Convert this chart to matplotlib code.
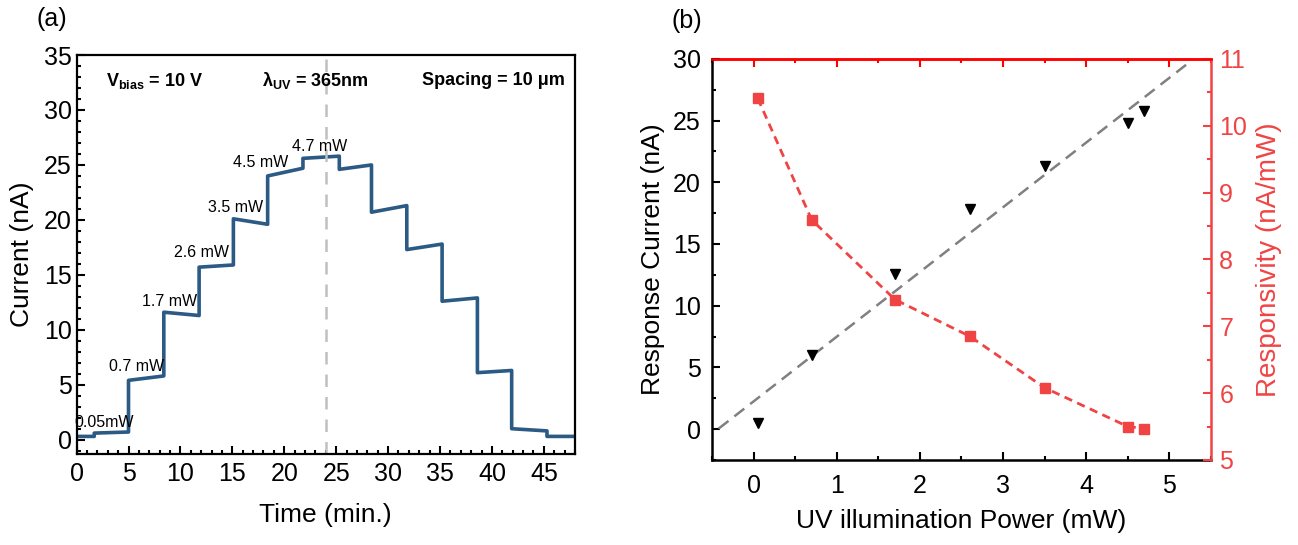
import matplotlib
matplotlib.use("Agg")
import matplotlib.pyplot as plt
import numpy as np
from matplotlib.ticker import MultipleLocator

plt.rcParams.update({
    "font.family": ["Liberation Sans", "DejaVu Sans"],
    "mathtext.fontset": "custom",
    "mathtext.rm": "Liberation Sans",
    "mathtext.bf": "Liberation Sans:bold",
    "mathtext.it": "Liberation Sans:italic",
})

# (a) photocurrent trace: plateau edges (min) and plateau levels (nA)
step_times = [0, 1.7, 5.0, 8.4, 11.8, 15.1, 18.4, 21.8, 25.3, 28.4, 31.8, 35.2, 38.6, 41.9, 45.3, 48]
level_start = [0.3, 0.6, 5.4, 11.6, 15.7, 20.1, 24.0, 25.6, 24.6, 20.7, 17.3, 12.6, 6.1, 1.0, 0.3]
level_end = [0.3, 0.7, 5.8, 11.3, 15.9, 19.6, 24.7, 25.8, 25.0, 21.3, 17.8, 12.9, 6.3, 0.8, 0.3]

power_labels = ["0.05mW", "0.7 mW", "1.7 mW", "2.6 mW", "3.5 mW", "4.5 mW", "4.7 mW"]
label_t = [2.7, 5.8, 9.0, 12.0, 15.3, 17.7, 23.4]
label_i = [1.6, 6.7, 12.6, 17.0, 21.1, 25.2, 26.7]
t_center = 24

# (b) response current and responsivity vs UV power
power = [0.05, 0.7, 1.7, 2.6, 3.5, 4.5, 4.7]
resp_current = [0.5, 6.0, 12.6, 17.8, 21.3, 24.8, 25.8]
responsivity = [10.41, 8.59, 7.40, 6.85, 6.08, 5.50, 5.47]

blue = "#2b5a84"
red = "#f04444"
TICK = 18
LAB = 19

fig = plt.figure(figsize=(12.98, 5.45), dpi=100)
ax1 = fig.add_axes([0.059, 0.167, 0.384, 0.732])
ax2 = fig.add_axes([0.5485, 0.156, 0.3845, 0.736])

# ---- panel (a)
t_pts, i_pts = [], []
for k in range(len(level_start)):
    t_pts += [step_times[k], step_times[k + 1]]
    i_pts += [level_start[k], level_end[k]]
ax1.plot(t_pts, i_pts, color=blue, lw=2.6, solid_joinstyle="round")
ax1.axvline(t_center, color="#c0c0c0", lw=1.8, ls=(0, (5, 4)))

for lab, x, y in zip(power_labels, label_t, label_i):
    ax1.text(x, y, lab, fontsize=11.5, ha="center", va="center")

ax1.text(0.06, 0.935, r"V$_{\mathbf{bias}}$ = 10 V", transform=ax1.transAxes,
         fontsize=13, fontweight="bold", va="center")
ax1.text(0.48, 0.935, r"$\mathbf{\lambda_{UV}}$ = 365nm", transform=ax1.transAxes,
         fontsize=13, fontweight="bold", va="center", ha="center")
ax1.text(0.98, 0.935, "Spacing = 10 \u03bcm", transform=ax1.transAxes,
         fontsize=13, fontweight="bold", va="center", ha="right")

ax1.set_xlim(0, 48)
ax1.set_ylim(-1.3, 35)
ax1.xaxis.set_major_locator(MultipleLocator(5))
ax1.xaxis.set_minor_locator(MultipleLocator(1))
ax1.yaxis.set_major_locator(MultipleLocator(5))
ax1.yaxis.set_minor_locator(MultipleLocator(1))
ax1.tick_params(which="both", direction="in", labelsize=TICK, width=1.5)
ax1.tick_params(which="major", length=6)
ax1.tick_params(which="minor", length=3)
ax1.tick_params(axis="x", pad=6)
for sp in ax1.spines.values():
    sp.set_linewidth(1.6)
ax1.set_xlabel("Time (min.)", fontsize=LAB, labelpad=12)
ax1.set_ylabel("Current (nA)", fontsize=LAB, labelpad=7)
fig.text(0.028, 0.965, "(a)", fontsize=18, va="center")

# ---- panel (b)
slope, icpt = np.polyfit(power, resp_current, 1)
xf = np.array([-0.42, 5.2])
ax2.plot(xf, slope * xf + icpt, color="#808080", lw=1.8, ls=(0, (5, 3)))
ax2.plot(power, resp_current, "v", color="black", ms=7.5)

ax2.set_xlim(-0.5, 5.5)
ax2.set_ylim(-2.5, 30)
ax2.xaxis.set_major_locator(MultipleLocator(1))
ax2.xaxis.set_minor_locator(MultipleLocator(0.5))
ax2.yaxis.set_major_locator(MultipleLocator(5))
ax2.yaxis.set_minor_locator(MultipleLocator(2.5))
ax2.tick_params(which="both", direction="in", labelsize=TICK, width=1.5)
ax2.tick_params(which="major", length=6)
ax2.tick_params(which="minor", length=3)
ax2.tick_params(axis="x", pad=10)
ax2.tick_params(axis="y", pad=8)
ax2.set_xlabel("UV illumination Power (mW)", fontsize=LAB, labelpad=8)
ax2.set_ylabel("Response Current (nA)", fontsize=LAB, labelpad=6)
for sp in ax2.spines.values():
    sp.set_linewidth(1.8)

ax3 = ax2.twinx()
ax3.plot(power, responsivity, color=red, lw=2, ls=(0, (3, 2)))
ax3.plot(power, responsivity, "s", color=red, ms=7.5)
ax3.set_ylim(5, 11)
ax3.yaxis.set_major_locator(MultipleLocator(1))
ax3.yaxis.set_minor_locator(MultipleLocator(0.5))
ax3.tick_params(which="both", direction="in", labelsize=TICK, width=1.5,
                colors=red, pad=6)
ax3.tick_params(which="major", length=6)
ax3.tick_params(which="minor", length=3)
ax3.set_ylabel("Responsivity (nA/mW)", fontsize=LAB + 1, color=red, labelpad=6)
for name, sp in ax3.spines.items():
    sp.set_linewidth(1.8)
ax3.spines["right"].set_color(red)
ax3.spines["top"].set_color("#ff0000")
ax3.spines["left"].set_visible(False)
ax3.spines["bottom"].set_visible(False)
ax2.spines["top"].set_visible(False)
ax2.spines["right"].set_visible(False)

# red ticks along top edge
axt = ax2.secondary_xaxis("top")
axt.xaxis.set_major_locator(MultipleLocator(1))
axt.xaxis.set_minor_locator(MultipleLocator(0.5))
axt.tick_params(which="both", direction="in", labeltop=False, colors="#ff0000", width=1.5)
axt.tick_params(which="major", length=6)
axt.tick_params(which="minor", length=3)
axt.spines["top"].set_color("#ff0000")
axt.spines["top"].set_linewidth(1.8)

fig.text(0.517, 0.962, "(b)", fontsize=18, va="center")

fig.savefig("out.png", dpi=100)
